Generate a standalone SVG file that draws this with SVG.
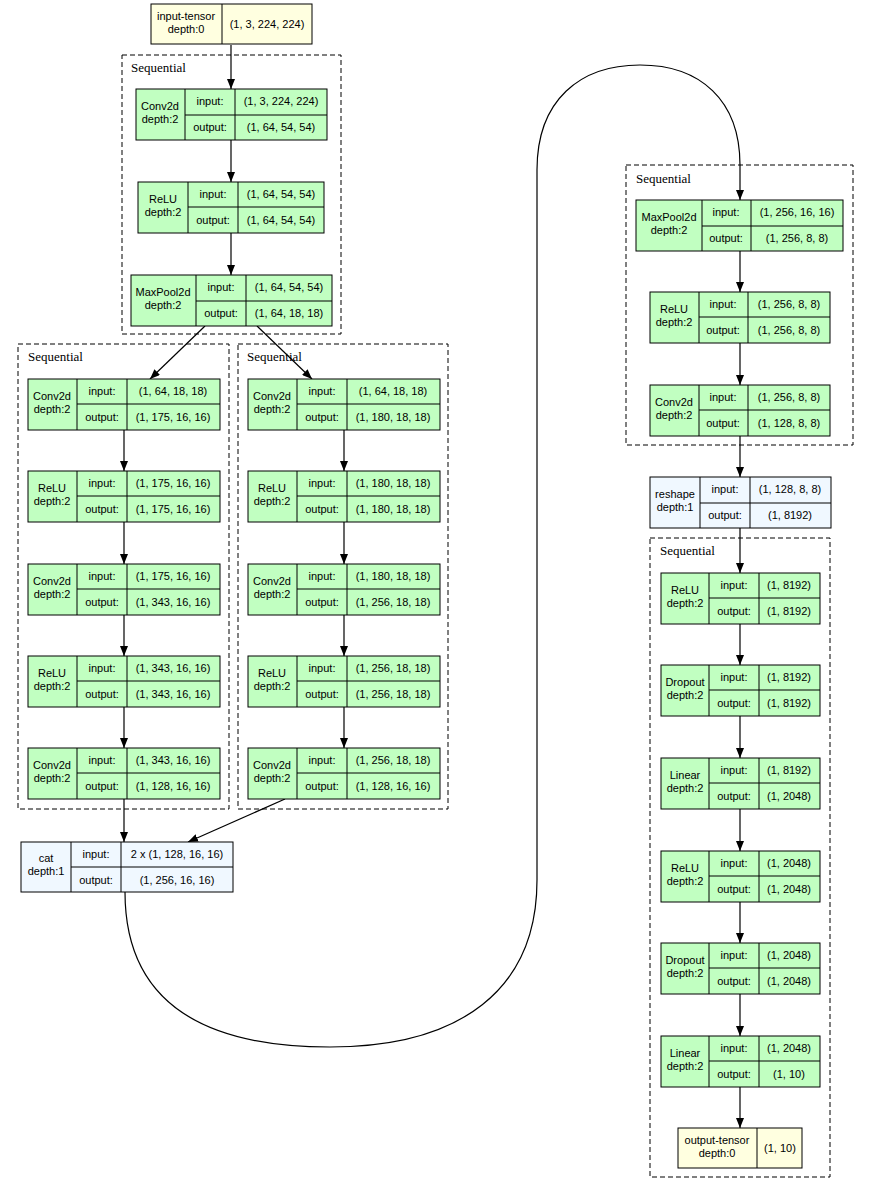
<svg xmlns="http://www.w3.org/2000/svg" width="874" height="1183" viewBox="0 0 874 1183">
<defs>
<marker id="ah" markerUnits="userSpaceOnUse" markerWidth="10" markerHeight="8" refX="10" refY="4" orient="auto"><path d="M0,0 L10,4 L0,8 z" fill="#000"/></marker>
<style>
.g{fill:#c1ffc1;stroke:#000;stroke-width:1}
.y{fill:#ffffe0;stroke:#000;stroke-width:1}
.a{fill:#f0f8ff;stroke:#000;stroke-width:1}
.b{fill:none;stroke:#000;stroke-width:1}
.c{fill:none;stroke:#000;stroke-width:1.2;marker-end:url(#ah)}
.s{fill:none;stroke:#000;stroke-width:1;stroke-dasharray:5,3}
.t{font-family:"Liberation Sans",Arial,sans-serif;font-size:11px;text-anchor:middle;fill:#000}
.q{font-family:"Liberation Serif","Times New Roman",serif;font-size:13px;fill:#000}
</style>
</defs>
<rect width="874" height="1183" fill="#fff"/>
<g id="clusters">
<rect class="s" x="122" y="55" width="219" height="279"/><text class="q" x="131" y="72">Sequential</text>
<rect class="s" x="18" y="344" width="211" height="465"/><text class="q" x="28" y="361">Sequential</text>
<rect class="s" x="238" y="344" width="210" height="465"/><text class="q" x="247" y="361">Sequential</text>
<rect class="s" x="626" y="165" width="227" height="280"/><text class="q" x="636" y="183">Sequential</text>
<rect class="s" x="650" y="538" width="180" height="639"/><text class="q" x="660" y="555">Sequential</text>
</g>
<g id="connectors">
<path class="c" d="M231,45 V89"/>
<path class="c" d="M231,140 V182"/>
<path class="c" d="M231,233 V275"/>
<path class="c" d="M205,326 L150,379"/>
<path class="c" d="M257,326 L312,379"/>
<path class="c" d="M124,430 V471"/>
<path class="c" d="M124,522 V564"/>
<path class="c" d="M124,615 V656"/>
<path class="c" d="M124,707 V748"/>
<path class="c" d="M124,799 V842"/>
<path class="c" d="M344,430 V471"/>
<path class="c" d="M344,522 V564"/>
<path class="c" d="M344,615 V656"/>
<path class="c" d="M344,707 V748"/>
<path class="c" d="M285,799 L188,842"/>
<path class="c" d="M125,892 C125,1000 200,1047 330,1047 C460,1047 537,990 537,880 L537,170 C537,100 580,65 640,65 C700,65 740,100 740,165 L740,200"/>
<path class="c" d="M740,251 V292"/>
<path class="c" d="M740,343 V385"/>
<path class="c" d="M740,436 V477"/>
<path class="c" d="M740,528 V573"/>
<path class="c" d="M740,624 V665"/>
<path class="c" d="M740,716 V758"/>
<path class="c" d="M740,809 V851"/>
<path class="c" d="M740,902 V943"/>
<path class="c" d="M740,994 V1036"/>
<path class="c" d="M740,1087 V1128"/>
</g>
<g id="input-tensor"><rect class="y" x="151" y="4" width="161" height="40"/><path class="b" d="M222,4 V44"/><text class="t" x="186" y="20">input-tensor</text><text class="t" x="186" y="33">depth:0</text><text class="t" x="267" y="28">(1, 3, 224, 224)</text></g>
<g id="s1-conv"><rect class="g" x="136" y="89" width="191" height="51"/><path class="b" d="M185,89 V140 M235,89 V140 M185,115 H327"/><text class="t" x="160" y="110">Conv2d</text><text class="t" x="160" y="123">depth:2</text><text class="t" x="210" y="105">input:</text><text class="t" x="210" y="131">output:</text><text class="t" x="281" y="105">(1, 3, 224, 224)</text><text class="t" x="281" y="131">(1, 64, 54, 54)</text></g>
<g id="s1-relu"><rect class="g" x="138" y="182" width="186" height="51"/><path class="b" d="M188,182 V233 M238,182 V233 M188,207 H324"/><text class="t" x="163" y="203">ReLU</text><text class="t" x="163" y="216">depth:2</text><text class="t" x="213" y="198">input:</text><text class="t" x="213" y="224">output:</text><text class="t" x="281" y="198">(1, 64, 54, 54)</text><text class="t" x="281" y="224">(1, 64, 54, 54)</text></g>
<g id="s1-maxpool"><rect class="g" x="131" y="275" width="201" height="51"/><path class="b" d="M196,275 V326 M246,275 V326 M196,301 H332"/><text class="t" x="163" y="296">MaxPool2d</text><text class="t" x="163" y="309">depth:2</text><text class="t" x="221" y="291">input:</text><text class="t" x="221" y="317">output:</text><text class="t" x="289" y="291">(1, 64, 54, 54)</text><text class="t" x="289" y="317">(1, 64, 18, 18)</text></g>
<g id="l-conv1"><rect class="g" x="28" y="379" width="192" height="51"/><path class="b" d="M77,379 V430 M127,379 V430 M77,404 H220"/><text class="t" x="52" y="400">Conv2d</text><text class="t" x="52" y="413">depth:2</text><text class="t" x="102" y="395">input:</text><text class="t" x="102" y="421">output:</text><text class="t" x="173" y="395">(1, 64, 18, 18)</text><text class="t" x="173" y="421">(1, 175, 16, 16)</text></g>
<g id="l-relu1"><rect class="g" x="28" y="471" width="192" height="51"/><path class="b" d="M77,471 V522 M127,471 V522 M77,496 H220"/><text class="t" x="52" y="492">ReLU</text><text class="t" x="52" y="505">depth:2</text><text class="t" x="102" y="487">input:</text><text class="t" x="102" y="513">output:</text><text class="t" x="173" y="487">(1, 175, 16, 16)</text><text class="t" x="173" y="513">(1, 175, 16, 16)</text></g>
<g id="l-conv2"><rect class="g" x="28" y="564" width="192" height="51"/><path class="b" d="M77,564 V615 M127,564 V615 M77,589 H220"/><text class="t" x="52" y="585">Conv2d</text><text class="t" x="52" y="598">depth:2</text><text class="t" x="102" y="580">input:</text><text class="t" x="102" y="606">output:</text><text class="t" x="173" y="580">(1, 175, 16, 16)</text><text class="t" x="173" y="606">(1, 343, 16, 16)</text></g>
<g id="l-relu2"><rect class="g" x="28" y="656" width="192" height="51"/><path class="b" d="M77,656 V707 M127,656 V707 M77,681 H220"/><text class="t" x="52" y="677">ReLU</text><text class="t" x="52" y="690">depth:2</text><text class="t" x="102" y="672">input:</text><text class="t" x="102" y="698">output:</text><text class="t" x="173" y="672">(1, 343, 16, 16)</text><text class="t" x="173" y="698">(1, 343, 16, 16)</text></g>
<g id="l-conv3"><rect class="g" x="28" y="748" width="192" height="51"/><path class="b" d="M77,748 V799 M127,748 V799 M77,773 H220"/><text class="t" x="52" y="769">Conv2d</text><text class="t" x="52" y="782">depth:2</text><text class="t" x="102" y="764">input:</text><text class="t" x="102" y="790">output:</text><text class="t" x="173" y="764">(1, 343, 16, 16)</text><text class="t" x="173" y="790">(1, 128, 16, 16)</text></g>
<g id="m-conv1"><rect class="g" x="248" y="379" width="192" height="51"/><path class="b" d="M297,379 V430 M347,379 V430 M297,404 H440"/><text class="t" x="272" y="400">Conv2d</text><text class="t" x="272" y="413">depth:2</text><text class="t" x="322" y="395">input:</text><text class="t" x="322" y="421">output:</text><text class="t" x="393" y="395">(1, 64, 18, 18)</text><text class="t" x="393" y="421">(1, 180, 18, 18)</text></g>
<g id="m-relu1"><rect class="g" x="248" y="471" width="192" height="51"/><path class="b" d="M297,471 V522 M347,471 V522 M297,496 H440"/><text class="t" x="272" y="492">ReLU</text><text class="t" x="272" y="505">depth:2</text><text class="t" x="322" y="487">input:</text><text class="t" x="322" y="513">output:</text><text class="t" x="393" y="487">(1, 180, 18, 18)</text><text class="t" x="393" y="513">(1, 180, 18, 18)</text></g>
<g id="m-conv2"><rect class="g" x="248" y="564" width="192" height="51"/><path class="b" d="M297,564 V615 M347,564 V615 M297,589 H440"/><text class="t" x="272" y="585">Conv2d</text><text class="t" x="272" y="598">depth:2</text><text class="t" x="322" y="580">input:</text><text class="t" x="322" y="606">output:</text><text class="t" x="393" y="580">(1, 180, 18, 18)</text><text class="t" x="393" y="606">(1, 256, 18, 18)</text></g>
<g id="m-relu2"><rect class="g" x="248" y="656" width="192" height="51"/><path class="b" d="M297,656 V707 M347,656 V707 M297,681 H440"/><text class="t" x="272" y="677">ReLU</text><text class="t" x="272" y="690">depth:2</text><text class="t" x="322" y="672">input:</text><text class="t" x="322" y="698">output:</text><text class="t" x="393" y="672">(1, 256, 18, 18)</text><text class="t" x="393" y="698">(1, 256, 18, 18)</text></g>
<g id="m-conv3"><rect class="g" x="248" y="748" width="192" height="51"/><path class="b" d="M297,748 V799 M347,748 V799 M297,773 H440"/><text class="t" x="272" y="769">Conv2d</text><text class="t" x="272" y="782">depth:2</text><text class="t" x="322" y="764">input:</text><text class="t" x="322" y="790">output:</text><text class="t" x="393" y="764">(1, 256, 18, 18)</text><text class="t" x="393" y="790">(1, 128, 16, 16)</text></g>
<g id="cat"><rect class="a" x="21" y="842" width="212" height="50"/><path class="b" d="M71,842 V892 M121,842 V892 M71,867 H233"/><text class="t" x="46" y="862">cat</text><text class="t" x="46" y="875">depth:1</text><text class="t" x="96" y="858">input:</text><text class="t" x="96" y="884">output:</text><text class="t" x="177" y="858">2 x (1, 128, 16, 16)</text><text class="t" x="177" y="884">(1, 256, 16, 16)</text></g>
<g id="r-maxpool"><rect class="g" x="636" y="200" width="207" height="51"/><path class="b" d="M702,200 V251 M751,200 V251 M702,226 H843"/><text class="t" x="669" y="221">MaxPool2d</text><text class="t" x="669" y="234">depth:2</text><text class="t" x="726" y="216">input:</text><text class="t" x="726" y="242">output:</text><text class="t" x="797" y="216">(1, 256, 16, 16)</text><text class="t" x="797" y="242">(1, 256, 8, 8)</text></g>
<g id="r-relu"><rect class="g" x="650" y="292" width="180" height="51"/><path class="b" d="M699,292 V343 M748,292 V343 M699,317 H830"/><text class="t" x="674" y="313">ReLU</text><text class="t" x="674" y="326">depth:2</text><text class="t" x="723" y="308">input:</text><text class="t" x="723" y="334">output:</text><text class="t" x="789" y="308">(1, 256, 8, 8)</text><text class="t" x="789" y="334">(1, 256, 8, 8)</text></g>
<g id="r-conv"><rect class="g" x="650" y="385" width="180" height="51"/><path class="b" d="M699,385 V436 M748,385 V436 M699,410 H830"/><text class="t" x="674" y="406">Conv2d</text><text class="t" x="674" y="419">depth:2</text><text class="t" x="723" y="401">input:</text><text class="t" x="723" y="427">output:</text><text class="t" x="789" y="401">(1, 256, 8, 8)</text><text class="t" x="789" y="427">(1, 128, 8, 8)</text></g>
<g id="reshape"><rect class="a" x="650" y="477" width="181" height="51"/><path class="b" d="M700,477 V528 M750,477 V528 M700,503 H831"/><text class="t" x="675" y="498">reshape</text><text class="t" x="675" y="511">depth:1</text><text class="t" x="725" y="493">input:</text><text class="t" x="725" y="519">output:</text><text class="t" x="790" y="493">(1, 128, 8, 8)</text><text class="t" x="790" y="519">(1, 8192)</text></g>
<g id="b-relu1"><rect class="g" x="661" y="573" width="159" height="51"/><path class="b" d="M709,573 V624 M759,573 V624 M709,598 H820"/><text class="t" x="685" y="594">ReLU</text><text class="t" x="685" y="607">depth:2</text><text class="t" x="734" y="589">input:</text><text class="t" x="734" y="615">output:</text><text class="t" x="789" y="589">(1, 8192)</text><text class="t" x="789" y="615">(1, 8192)</text></g>
<g id="b-drop1"><rect class="g" x="661" y="665" width="159" height="51"/><path class="b" d="M709,665 V716 M759,665 V716 M709,690 H820"/><text class="t" x="685" y="686">Dropout</text><text class="t" x="685" y="699">depth:2</text><text class="t" x="734" y="681">input:</text><text class="t" x="734" y="707">output:</text><text class="t" x="789" y="681">(1, 8192)</text><text class="t" x="789" y="707">(1, 8192)</text></g>
<g id="b-lin1"><rect class="g" x="661" y="758" width="159" height="51"/><path class="b" d="M709,758 V809 M759,758 V809 M709,783 H820"/><text class="t" x="685" y="779">Linear</text><text class="t" x="685" y="792">depth:2</text><text class="t" x="734" y="774">input:</text><text class="t" x="734" y="800">output:</text><text class="t" x="789" y="774">(1, 8192)</text><text class="t" x="789" y="800">(1, 2048)</text></g>
<g id="b-relu2"><rect class="g" x="661" y="851" width="159" height="51"/><path class="b" d="M709,851 V902 M759,851 V902 M709,876 H820"/><text class="t" x="685" y="872">ReLU</text><text class="t" x="685" y="885">depth:2</text><text class="t" x="734" y="867">input:</text><text class="t" x="734" y="893">output:</text><text class="t" x="789" y="867">(1, 2048)</text><text class="t" x="789" y="893">(1, 2048)</text></g>
<g id="b-drop2"><rect class="g" x="661" y="943" width="159" height="51"/><path class="b" d="M709,943 V994 M759,943 V994 M709,968 H820"/><text class="t" x="685" y="964">Dropout</text><text class="t" x="685" y="977">depth:2</text><text class="t" x="734" y="959">input:</text><text class="t" x="734" y="985">output:</text><text class="t" x="789" y="959">(1, 2048)</text><text class="t" x="789" y="985">(1, 2048)</text></g>
<g id="b-lin2"><rect class="g" x="661" y="1036" width="159" height="51"/><path class="b" d="M709,1036 V1087 M759,1036 V1087 M709,1061 H820"/><text class="t" x="685" y="1057">Linear</text><text class="t" x="685" y="1070">depth:2</text><text class="t" x="734" y="1052">input:</text><text class="t" x="734" y="1078">output:</text><text class="t" x="789" y="1052">(1, 2048)</text><text class="t" x="789" y="1078">(1, 10)</text></g>
<g id="output-tensor"><rect class="y" x="678" y="1128" width="124" height="40"/><path class="b" d="M757,1128 V1168"/><text class="t" x="717" y="1144">output-tensor</text><text class="t" x="717" y="1157">depth:0</text><text class="t" x="780" y="1152">(1, 10)</text></g>
</svg>
